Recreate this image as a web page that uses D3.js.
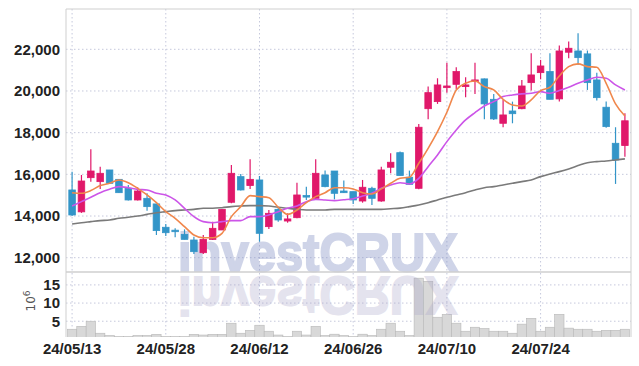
<!DOCTYPE html>
<html>
<head>
<meta charset="utf-8">
<script src="https://cdn.jsdelivr.net/npm/d3@7"></script>
<style>
  body { margin: 0; background: #fff; }
  svg { display: block; }
</style>
</head>
<body>
<div id="chart"></div>
<script>
// trading days 24/05/13 .. 24/08/06
var dates = ["24/05/13","24/05/14","24/05/16","24/05/17","24/05/20","24/05/21","24/05/22","24/05/23","24/05/24","24/05/27",
  "24/05/28","24/05/29","24/05/30","24/05/31","24/06/03","24/06/04","24/06/05","24/06/07","24/06/10","24/06/11",
  "24/06/12","24/06/13","24/06/14","24/06/17","24/06/18","24/06/19","24/06/20","24/06/21","24/06/24","24/06/25",
  "24/06/26","24/06/27","24/06/28","24/07/01","24/07/02","24/07/03","24/07/04","24/07/05","24/07/08","24/07/09",
  "24/07/10","24/07/11","24/07/12","24/07/15","24/07/16","24/07/17","24/07/18","24/07/19","24/07/22","24/07/23",
  "24/07/24","24/07/25","24/07/26","24/07/29","24/07/30","24/07/31","24/08/01","24/08/02","24/08/05","24/08/06"];

var openP  = [15250,14200,15840,15650,16210,15760,15330,14770,14850,14580,13460,13320,13120,12850,12240,12880,13330,14660,15890,15460,
  15730,13490,14320,13760,13920,14980,14850,15970,16160,15200,15170,14720,15330,14720,16340,17040,15860,15330,19150,19490,
  20160,20320,20210,20450,20580,19600,18450,19040,19150,20400,20880,20930,19620,21860,21920,21780,20530,19220,17490,17380];
var highP  = [16130,15970,17200,16370,16210,15760,15490,15380,15090,14580,13620,13410,13360,13010,13090,13730,14320,16450,16020,16720,
  15920,14290,14420,14130,15600,15410,16720,16180,16160,15700,15170,15730,15410,16370,17010,17090,16180,18420,20210,20610,
  21360,21140,20660,21360,20600,19860,19570,19490,20530,21810,21490,21810,22180,22370,22770,21940,20880,19490,18260,18930];
var lowP   = [14000,14150,15650,15300,15570,15120,14740,14740,14250,13090,13040,12980,12880,12180,12180,12850,13330,14610,15220,15300,
  12770,13380,13730,13680,13890,14770,14800,15380,14800,15100,14580,14640,14530,14680,16050,15940,15490,15280,18640,19380,
  19920,20080,19700,19860,18640,18610,18260,18450,19120,20020,20560,19600,19490,21570,21250,20050,19540,18240,15540,16850];
var closeP = [14050,15680,16160,16050,15570,15120,14770,15200,14450,13300,13200,13280,12880,12290,12880,13410,14320,16050,15250,15760,
  13170,14130,13810,13860,15010,14940,16050,15410,15090,15120,14770,15380,14850,16210,16580,15940,15520,18260,19920,20290,
  20240,20930,20290,20530,19380,18660,18850,18910,20240,20770,21200,19600,21920,22050,21600,20400,19680,18290,16690,18570];

// volume, millions of shares
var volume = [2.8,3.6,5.0,1.7,1.07,0.8,0.8,1.07,1.07,1.4,0.8,0.8,0.8,1.4,1.2,1.4,1.4,4.45,1.7,2.5,
  3.9,2.25,1.2,0.8,2.25,1.2,3.6,1.06,1.43,1.06,0.78,1.43,1.06,2.8,4.46,2.25,1.06,16.85,16.0,6.1,
  6.9,4.46,2.25,3.35,3.0,2.25,2.25,1.7,4.2,5.8,2.25,3.35,6.9,3.1,2.8,2.8,2.25,2.5,2.5,2.8];

// moving averages
var ma5  = [15120,15090,15220,15460,15570,15730,15600,15330,15010,14640,14210,13890,13490,13090,12960,12960,13170,13970,14450,14980,
  14930,14880,14420,14080,14290,14640,14930,15120,15360,15360,15300,15120,15060,15300,15570,15810,15860,16530,17250,18050,
  18980,20050,20370,20480,20210,20050,19600,19330,19280,19570,20020,20180,20720,21170,21300,21170,21140,20370,19380,18800];
var ma20 = [14480,14690,14900,15120,15280,15410,15360,15280,15250,15090,15010,14770,14370,13970,13730,13680,13730,13780,13780,13970,
  13970,14050,14210,14370,14480,14690,14800,14770,14740,14780,14830,14960,15090,15330,15490,15600,15540,15810,16370,16930,
  17570,18130,18610,18960,19280,19490,19730,19810,19860,19890,19970,19890,20020,20180,20370,20530,20660,20610,20290,20050];
var ma60 = [13620,13680,13730,13780,13810,13890,13940,14000,14080,14160,14210,14260,14290,14320,14370,14370,14400,14450,14480,14500,
  14500,14480,14420,14370,14320,14290,14290,14290,14320,14320,14320,14320,14320,14320,14350,14380,14450,14530,14640,14770,
  14900,15010,15120,15250,15360,15410,15490,15570,15650,15730,15890,16020,16130,16260,16420,16560,16610,16640,16690,16740];

var priceTicks = [12000,14000,16000,18000,20000,22000];
var volTicks = [5,10,15];
var dateTicks = ["24/05/13","24/05/28","24/06/12","24/06/26","24/07/10","24/07/24"];

var upColor = "#e0186a", downColor = "#3395c8";
var labelFont = "'Liberation Sans Narrow','Liberation Sans',sans-serif";

var W = 639, H = 366;
var plotLeft = 66, plotRight = 631, plotTop = 9, priceBottom = 272, volBottom = 337;

var svg = d3.select("#chart").append("svg")
  .attr("width", W)
  .attr("height", H);

var x = d3.scaleBand().domain(dates).range([plotLeft, plotRight]).padding(0.3);
var cx = function(d){ return x(d) + x.bandwidth()/2; };
var y = d3.scaleLinear().domain([12000, 22000]).range([257.7, 49.3]);
var yVol = d3.scaleLinear().domain([0, 15]).range([339.4, 284.9]);

var defs = svg.append("defs");
defs.append("clipPath").attr("id", "priceClip")
  .append("rect").attr("x", plotLeft).attr("y", plotTop).attr("width", plotRight-plotLeft).attr("height", priceBottom-plotTop);
defs.append("clipPath").attr("id", "volClip")
  .append("rect").attr("x", plotLeft).attr("y", priceBottom).attr("width", plotRight-plotLeft).attr("height", volBottom-priceBottom);

// grid
var grid = svg.append("g").attr("stroke", "#c5c8dc").attr("stroke-dasharray", "1.5,2.5").attr("stroke-width", 1);
priceTicks.forEach(function(t){
  grid.append("line").attr("x1", plotLeft).attr("x2", plotRight).attr("y1", y(t)).attr("y2", y(t));
});
volTicks.forEach(function(t){
  grid.append("line").attr("x1", plotLeft).attr("x2", plotRight).attr("y1", yVol(t)).attr("y2", yVol(t));
});
dateTicks.forEach(function(t){
  grid.append("line").attr("x1", cx(t)).attr("x2", cx(t)).attr("y1", plotTop).attr("y2", volBottom);
});

// volume bars
svg.append("g").attr("clip-path", "url(#volClip)")
  .selectAll("rect").data(dates).enter().append("rect")
    .attr("x", function(d){ return x(d) - x.step()*0.15; })
    .attr("width", x.step())
    .attr("y", function(d, i){ return yVol(volume[i]); })
    .attr("height", function(d, i){ return yVol(0) - yVol(volume[i]); })
    .attr("fill", "#d8d8d8")
    .attr("stroke", "#b8b8b8")
    .attr("stroke-width", 0.6);

// watermark + reflection (drawn under the candles)
var wm = svg.append("g").attr("font-family", "'Liberation Sans',Arial,sans-serif").attr("font-weight", "bold");
wm.append("text")
  .attr("x", 178).attr("y", 271)
  .attr("font-size", 54.5)
  .attr("textLength", 280).attr("lengthAdjust", "spacingAndGlyphs")
  .attr("fill", "#8896c8").attr("stroke", "#8896c8").attr("stroke-width", 2)
  .attr("opacity", 0.4)
  .text("investCRUX");
wm.append("text")
  .attr("x", 178).attr("y", 271)
  .attr("transform", "translate(0," + (2*274) + ") scale(1,-1)")
  .attr("font-size", 54.5)
  .attr("textLength", 280).attr("lengthAdjust", "spacingAndGlyphs")
  .attr("fill", "#a8a4c8").attr("stroke", "#a8a4c8").attr("stroke-width", 2)
  .attr("opacity", 0.3)
  .text("investCRUX");

// candles
var candles = svg.append("g").attr("clip-path", "url(#priceClip)");
var cg = candles.selectAll("g").data(dates).enter().append("g")
  .attr("fill", function(d, i){ return closeP[i] >= openP[i] ? upColor : downColor; })
  .attr("stroke", function(d, i){ return closeP[i] >= openP[i] ? upColor : downColor; });
cg.append("line")
  .attr("x1", cx).attr("x2", cx)
  .attr("y1", function(d, i){ return y(highP[i]); })
  .attr("y2", function(d, i){ return y(lowP[i]); })
  .attr("stroke-width", 1.2);
cg.append("rect")
  .attr("x", function(d){ return x(d); })
  .attr("width", x.bandwidth())
  .attr("y", function(d, i){ return y(Math.max(openP[i], closeP[i])); })
  .attr("height", function(d, i){ return Math.max(1.5, Math.abs(y(openP[i]) - y(closeP[i]))); })
  .attr("stroke-width", 0.8);

// moving average lines
function maLine(vals, color){
  var line = d3.line()
    .x(function(d, i){ return cx(dates[i]); })
    .y(function(d){ return y(d); })
    .curve(d3.curveMonotoneX);
  candles.append("path")
    .datum(vals)
    .attr("d", line)
    .attr("fill", "none")
    .attr("stroke", color)
    .attr("stroke-width", 1.6);
}
maLine(ma60, "#7a7a7a");
maLine(ma20, "#cc55e8");
maLine(ma5, "#f0874c");

// frame
var frame = svg.append("g").attr("stroke", "#cfcfcf").attr("fill", "none");
frame.append("line").attr("x1", plotLeft).attr("x2", plotRight).attr("y1", plotTop).attr("y2", plotTop);
frame.append("line").attr("x1", plotLeft).attr("x2", plotLeft).attr("y1", plotTop).attr("y2", volBottom);
frame.append("line").attr("x1", plotRight).attr("x2", plotRight).attr("y1", plotTop).attr("y2", volBottom);
frame.append("line").attr("x1", plotLeft).attr("x2", plotRight).attr("y1", priceBottom).attr("y2", priceBottom).attr("stroke-width", 1.5);

// axes
var yAxis = svg.append("g")
  .attr("transform", "translate(" + plotLeft + ",0)")
  .call(d3.axisLeft(y).tickValues(priceTicks).tickFormat(d3.format(",")).tickSize(0).tickPadding(6));
var vAxis = svg.append("g")
  .attr("transform", "translate(" + plotLeft + ",0)")
  .call(d3.axisLeft(yVol).tickValues(volTicks).tickSize(0).tickPadding(6));
var xAxis = svg.append("g")
  .attr("transform", "translate(0," + volBottom + ")")
  .call(d3.axisBottom(x).tickValues(dateTicks).tickSize(0).tickPadding(6));

[yAxis, vAxis, xAxis].forEach(function(a){
  a.select(".domain").remove();
  a.selectAll("text")
    .attr("font-family", labelFont)
    .attr("font-weight", "bold")
    .attr("font-size", 15)
    .attr("fill", "#222");
});

svg.append("text")
  .attr("transform", "translate(35,301) rotate(-90)")
  .attr("text-anchor", "middle")
  .attr("font-family", "'DejaVu Sans',sans-serif")
  .attr("font-size", 12)
  .attr("fill", "#555")
  .text("10")
  .append("tspan")
    .attr("dy", -5)
    .attr("font-size", 9)
    .text("6");
</script>
</body>
</html>
